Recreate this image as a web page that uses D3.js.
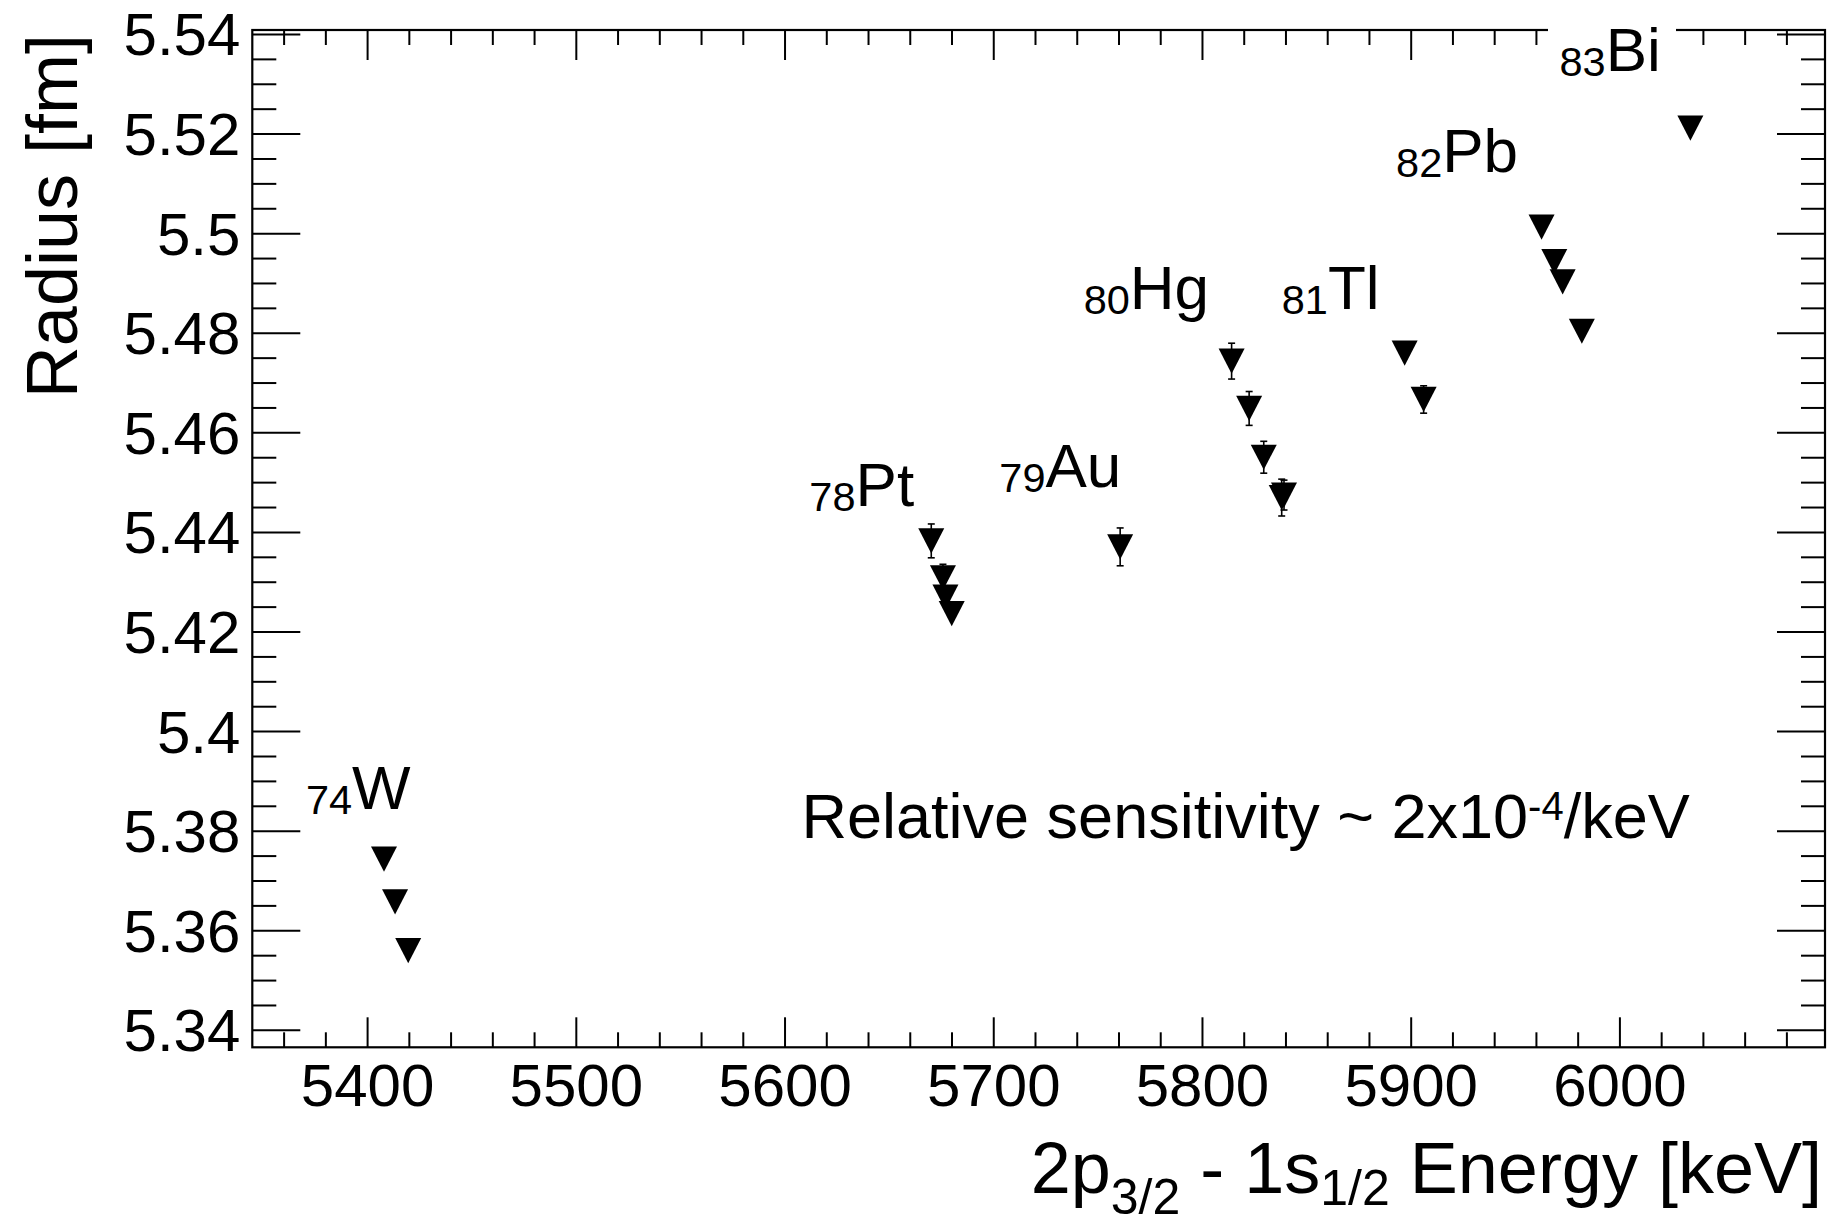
<!DOCTYPE html>
<html><head><meta charset="utf-8">
<script src="https://cdn.jsdelivr.net/npm/d3@7"></script>
<style>
body{margin:0;background:#fff}
svg text{font-family:"Liberation Sans",Arial,Helvetica,sans-serif;fill:#000}
</style>
</head><body><svg id="c" width="1837" height="1220"></svg>
<script>
// ---------------- data ----------------
const elements = ["W","W","W","Pt","Pt","Pt","Pt","Au","Hg","Hg","Hg","Hg","Hg","Tl","Tl","Pb","Pb","Pb","Pb","Bi"];
const energy = [5408.1,5413.4,5419.7,5670.3,5675.9,5677.1,5680.1,5760.8,5814.2,5822.6,5829.6,5839.3,5838.2,5897.1,5906.2,5962.7,5968.8,5972.8,5982.0,6034.0];
const radius = [5.3743,5.3657,5.3559,5.4382,5.4308,5.4269,5.4236,5.4370,5.4743,5.4648,5.4550,5.4474,5.4469,5.4759,5.4666,5.5012,5.4943,5.4902,5.4803,5.5211];
const radiusErr = [0.001,0.001,0.001,0.0034,0.0027,0.002,0.002,0.0038,0.0036,0.0034,0.0032,0.0030,0.0037,0.002,0.00275,0.001,0.001,0.001,0.001,0.001];

const labelSymbols = ["W","Pt","Au","Hg","Tl","Pb","Bi"];
const labelZ = ["74","78","79","80","81","82","83"];
const labelEnergy = [5370.7,5611.9,5702.9,5743.3,5838.2,5893.0,5971.3];
const labelRadius = [5.3843,5.4452,5.4490,5.4847,5.4847,5.5122,5.5325];

const xMajorTicks = [5400,5500,5600,5700,5800,5900,6000];
const xTickLabels = ["5400","5500","5600","5700","5800","5900","6000"];
const yMajorTicks = [5.34,5.36,5.38,5.40,5.42,5.44,5.46,5.48,5.50,5.52,5.54];
const yTickLabels = ["5.34","5.36","5.38","5.4","5.42","5.44","5.46","5.48","5.5","5.52","5.54"];
const xDomain = [5345, 6098.5];
const yDomain = [5.3365, 5.5408];

// ---------------- layout ----------------
const L = 252.3, R = 1825, T = 30, B = 1047.3;
const svg = d3.select("#c");
svg.append("rect").attr("width",1837).attr("height",1220).attr("fill","#fff");

const x = d3.scaleLinear().domain(xDomain).range([L, R]);
const y = d3.scaleLinear().domain(yDomain).range([B, T]);

const xMinor = d3.range(5360, 6099, 20).filter(v => !xMajorTicks.includes(v));
const yMinor = d3.range(0, 41).map(i => +(5.34 + i*0.005).toFixed(3)).filter(v => v <= 5.5408 && !yMajorTicks.some(m => Math.abs(m - v) < 1e-6));

function styleAxis(g){
  g.select(".domain").remove();
  g.selectAll(".tick line").attr("stroke","#000").attr("stroke-width",2);
}

// bottom axis
const gxB = svg.append("g").attr("transform",`translate(0,${B})`)
  .call(d3.axisBottom(x).tickValues(xMajorTicks).tickSizeInner(-30).tickSizeOuter(0).tickPadding(16.5)
        .tickFormat((d,i) => xTickLabels[i]));
styleAxis(gxB);
gxB.selectAll("text").attr("font-size",60).attr("font-family",'"Liberation Sans",Arial,sans-serif');
svg.append("g").attr("transform",`translate(0,${B})`)
  .call(d3.axisBottom(x).tickValues(xMinor).tickSizeInner(-15).tickSizeOuter(0).tickFormat(""))
  .call(styleAxis);
// top axis
svg.append("g").attr("transform",`translate(0,${T})`)
  .call(d3.axisTop(x).tickValues(xMajorTicks).tickSizeInner(-30).tickSizeOuter(0).tickFormat(""))
  .call(styleAxis);
svg.append("g").attr("transform",`translate(0,${T})`)
  .call(d3.axisTop(x).tickValues(xMinor).tickSizeInner(-15).tickSizeOuter(0).tickFormat(""))
  .call(styleAxis);
// left axis
const gyL = svg.append("g").attr("transform",`translate(${L},0)`)
  .call(d3.axisLeft(y).tickValues(yMajorTicks).tickSizeInner(-48).tickSizeOuter(0).tickPadding(12)
        .tickFormat((d,i) => yTickLabels[i]));
styleAxis(gyL);
gyL.selectAll("text").attr("font-size",60).attr("dy","0.35em").attr("font-family",'"Liberation Sans",Arial,sans-serif');
svg.append("g").attr("transform",`translate(${L},0)`)
  .call(d3.axisLeft(y).tickValues(yMinor).tickSizeInner(-24).tickSizeOuter(0).tickFormat(""))
  .call(styleAxis);
// right axis
svg.append("g").attr("transform",`translate(${R},0)`)
  .call(d3.axisRight(y).tickValues(yMajorTicks).tickSizeInner(-48).tickSizeOuter(0).tickFormat(""))
  .call(styleAxis);
svg.append("g").attr("transform",`translate(${R},0)`)
  .call(d3.axisRight(y).tickValues(yMinor).tickSizeInner(-24).tickSizeOuter(0).tickFormat(""))
  .call(styleAxis);

// frame
svg.append("rect").attr("x",L).attr("y",T).attr("width",R-L).attr("height",B-T)
  .attr("fill","none").attr("stroke","#000").attr("stroke-width",2.2);

// axis titles
const xt = svg.append("text").attr("x",1822).attr("y",1193).attr("text-anchor","end").attr("font-size",72);
xt.append("tspan").text("2p");
xt.append("tspan").attr("font-size",50).attr("dy",21).text("3/2");
xt.append("tspan").attr("dy",-21).text(" - 1s");
xt.append("tspan").attr("font-size",50).attr("dy",12).text("1/2");
xt.append("tspan").attr("dy",-12).text(" Energy [keV]");

svg.append("text").attr("transform","translate(77,34) rotate(-90)")
  .attr("text-anchor","end").attr("font-size",72).text("Radius [fm]");

// data points
const pts = energy.map((e,i) => ({e, r: radius[i], err: radiusErr[i], el: elements[i]}));
const HALF = 12.6;
const eb = svg.append("g").attr("stroke","#000").attr("stroke-width",1.6);
pts.forEach(p => {
  const cx = x(p.e), cy = y(p.r);
  const ep = Math.abs(y(p.r + p.err) - cy);
  if (ep > HALF) {
    eb.append("line").attr("x1",cx).attr("x2",cx).attr("y1",cy-ep).attr("y2",cy+ep);
    eb.append("line").attr("x1",cx-3.5).attr("x2",cx+3.5).attr("y1",cy-ep).attr("y2",cy-ep);
    eb.append("line").attr("x1",cx-3.5).attr("x2",cx+3.5).attr("y1",cy+ep).attr("y2",cy+ep);
  }
});
const tri = "M-13,-12.6L13,-12.6L0,12.6Z";
svg.append("g").selectAll("path").data(pts).join("path")
  .attr("d",tri).attr("fill","#000")
  .attr("transform",d => `translate(${x(d.e)},${y(d.r)})`);

// element labels
labelSymbols.forEach((s,i) => {
  const lx = x(labelEnergy[i]), ly = y(labelRadius[i]);
  if (s === "Bi") {
    svg.append("rect").attr("x",1548).attr("y",18).attr("width",128).attr("height",70).attr("fill","#fff");
  }
  const t = svg.append("text").attr("x",lx).attr("y",ly).attr("font-size",62);
  t.append("tspan").attr("font-size",41.5).attr("dy",5).text(labelZ[i]);
  t.append("tspan").attr("dy",-5).text(s);
});

// annotation
const an = svg.append("text").attr("x",801.5).attr("y",838.3).attr("font-size",63);
an.append("tspan").text("Relative sensitivity ~ 2x10");
an.append("tspan").attr("font-size",40).attr("dy",-18).text("-4");
an.append("tspan").attr("dy",18).text("/keV");
</script>
</body></html>
